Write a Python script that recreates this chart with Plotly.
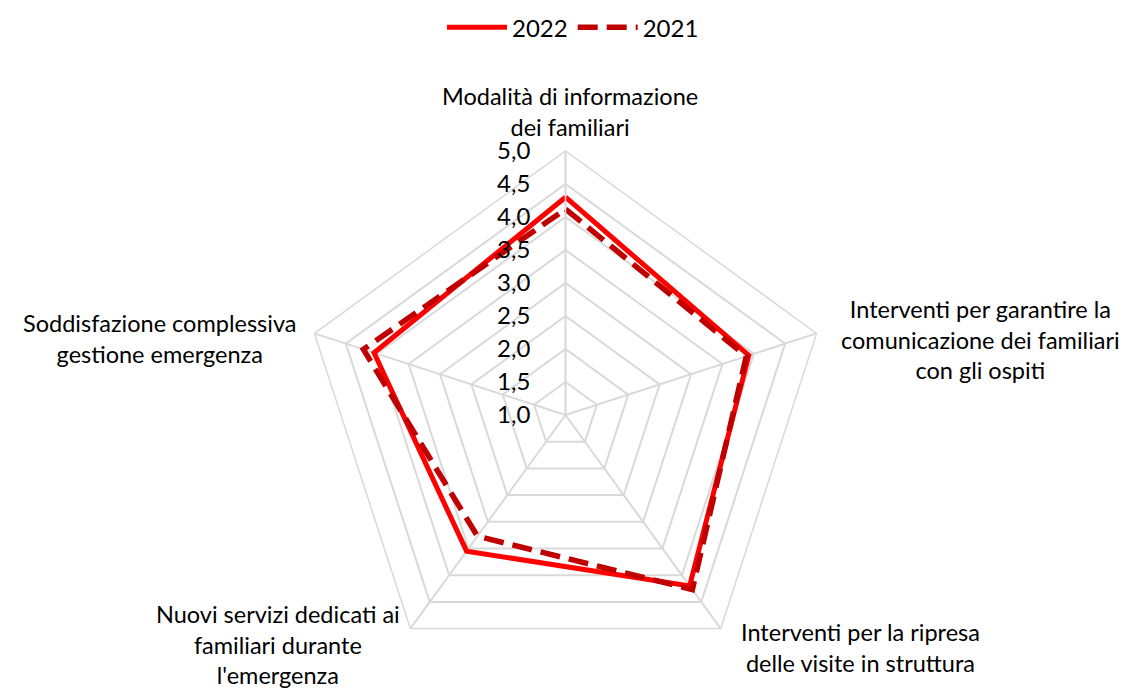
import plotly.graph_objects as go

categories = [
    "Modalità di informazione dei familiari",
    "Interventi per garantire la comunicazione dei familiari con gli ospiti",
    "Interventi per la ripresa delle visite in struttura",
    "Nuovi servizi dedicati ai familiari durante l'emergenza",
    "Soddisfazione complessiva gestione emergenza",
]
category_labels = [
    "Modalità di informazione<br>dei familiari",
    "Interventi per garantire la<br>comunicazione dei familiari<br>con gli ospiti",
    "Interventi per la ripresa<br>delle visite in struttura",
    "Nuovi servizi dedicati ai<br>familiari durante<br>l'emergenza",
    "Soddisfazione complessiva<br>gestione emergenza",
]
values_2022 = [4.3, 3.92, 4.2, 3.55, 4.05]
values_2021 = [4.12, 3.88, 4.27, 3.27, 4.22]
radial_ticks = [1.0, 1.5, 2.0, 2.5, 3.0, 3.5, 4.0, 4.5, 5.0]

# label anchor positions (pixels in 1130x690 canvas)
label_pos = [(562, 104), (972, 331), (852, 639), (270, 636), (151, 330)]

FONT = "Lato"
W, H = 1130, 690

fig = go.Figure()
fig.add_trace(go.Scatterpolar(
    r=values_2022 + values_2022[:1],
    theta=categories + categories[:1],
    mode="lines",
    name="2022",
    line=dict(color="#FF0000", width=5),
))
fig.add_trace(go.Scatterpolar(
    r=values_2021 + values_2021[:1],
    theta=categories + categories[:1],
    mode="lines",
    name="2021",
    line=dict(color="#C00000", width=5.5, dash="20px,9px"),
))

annotations = []
for text, (px, py) in zip(category_labels, label_pos):
    annotations.append(dict(
        text=text, x=px / W, y=1 - py / H, xref="paper", yref="paper",
        xanchor="center", yanchor="middle", align="center", showarrow=False,
        font=dict(family=FONT, size=23.5, color="#000000"),
    ))

fig.update_layout(
    width=W, height=H,
    margin=dict(l=0, r=0, t=0, b=0, autoexpand=False),
    paper_bgcolor="white",
    separators=", ",
    font=dict(family=FONT, size=24, color="#000000"),
    showlegend=True,
    legend=dict(orientation="h", x=0.5, xanchor="center", y=1.004, yanchor="top",
                font=dict(size=24, family=FONT), itemwidth=60),
    annotations=annotations,
    polar=dict(
        domain=dict(x=[293.5 / W, 821.5 / W], y=[1 - 671 / H, 1 - 143 / H]),
        bgcolor="white",
        gridshape="linear",
        radialaxis=dict(
            range=[1, 5],
            tickvals=radial_ticks,
            tickformat=".1f",
            angle=90,
            tickangle=90,
            side="counterclockwise",
            showline=True,
            linecolor="#D9D9D9",
            linewidth=1.5,
            gridcolor="#D9D9D9",
            gridwidth=1.5,
            ticks="outside",
            ticklen=26,
            tickcolor="rgba(0,0,0,0)",
            tickfont=dict(size=24, family=FONT),
        ),
        angularaxis=dict(
            rotation=90,
            direction="clockwise",
            showline=True,
            linecolor="#D9D9D9",
            linewidth=1.5,
            gridcolor="#D9D9D9",
            gridwidth=1.5,
            ticks="",
            showticklabels=False,
        ),
    ),
)

fig.write_html("out.html")
